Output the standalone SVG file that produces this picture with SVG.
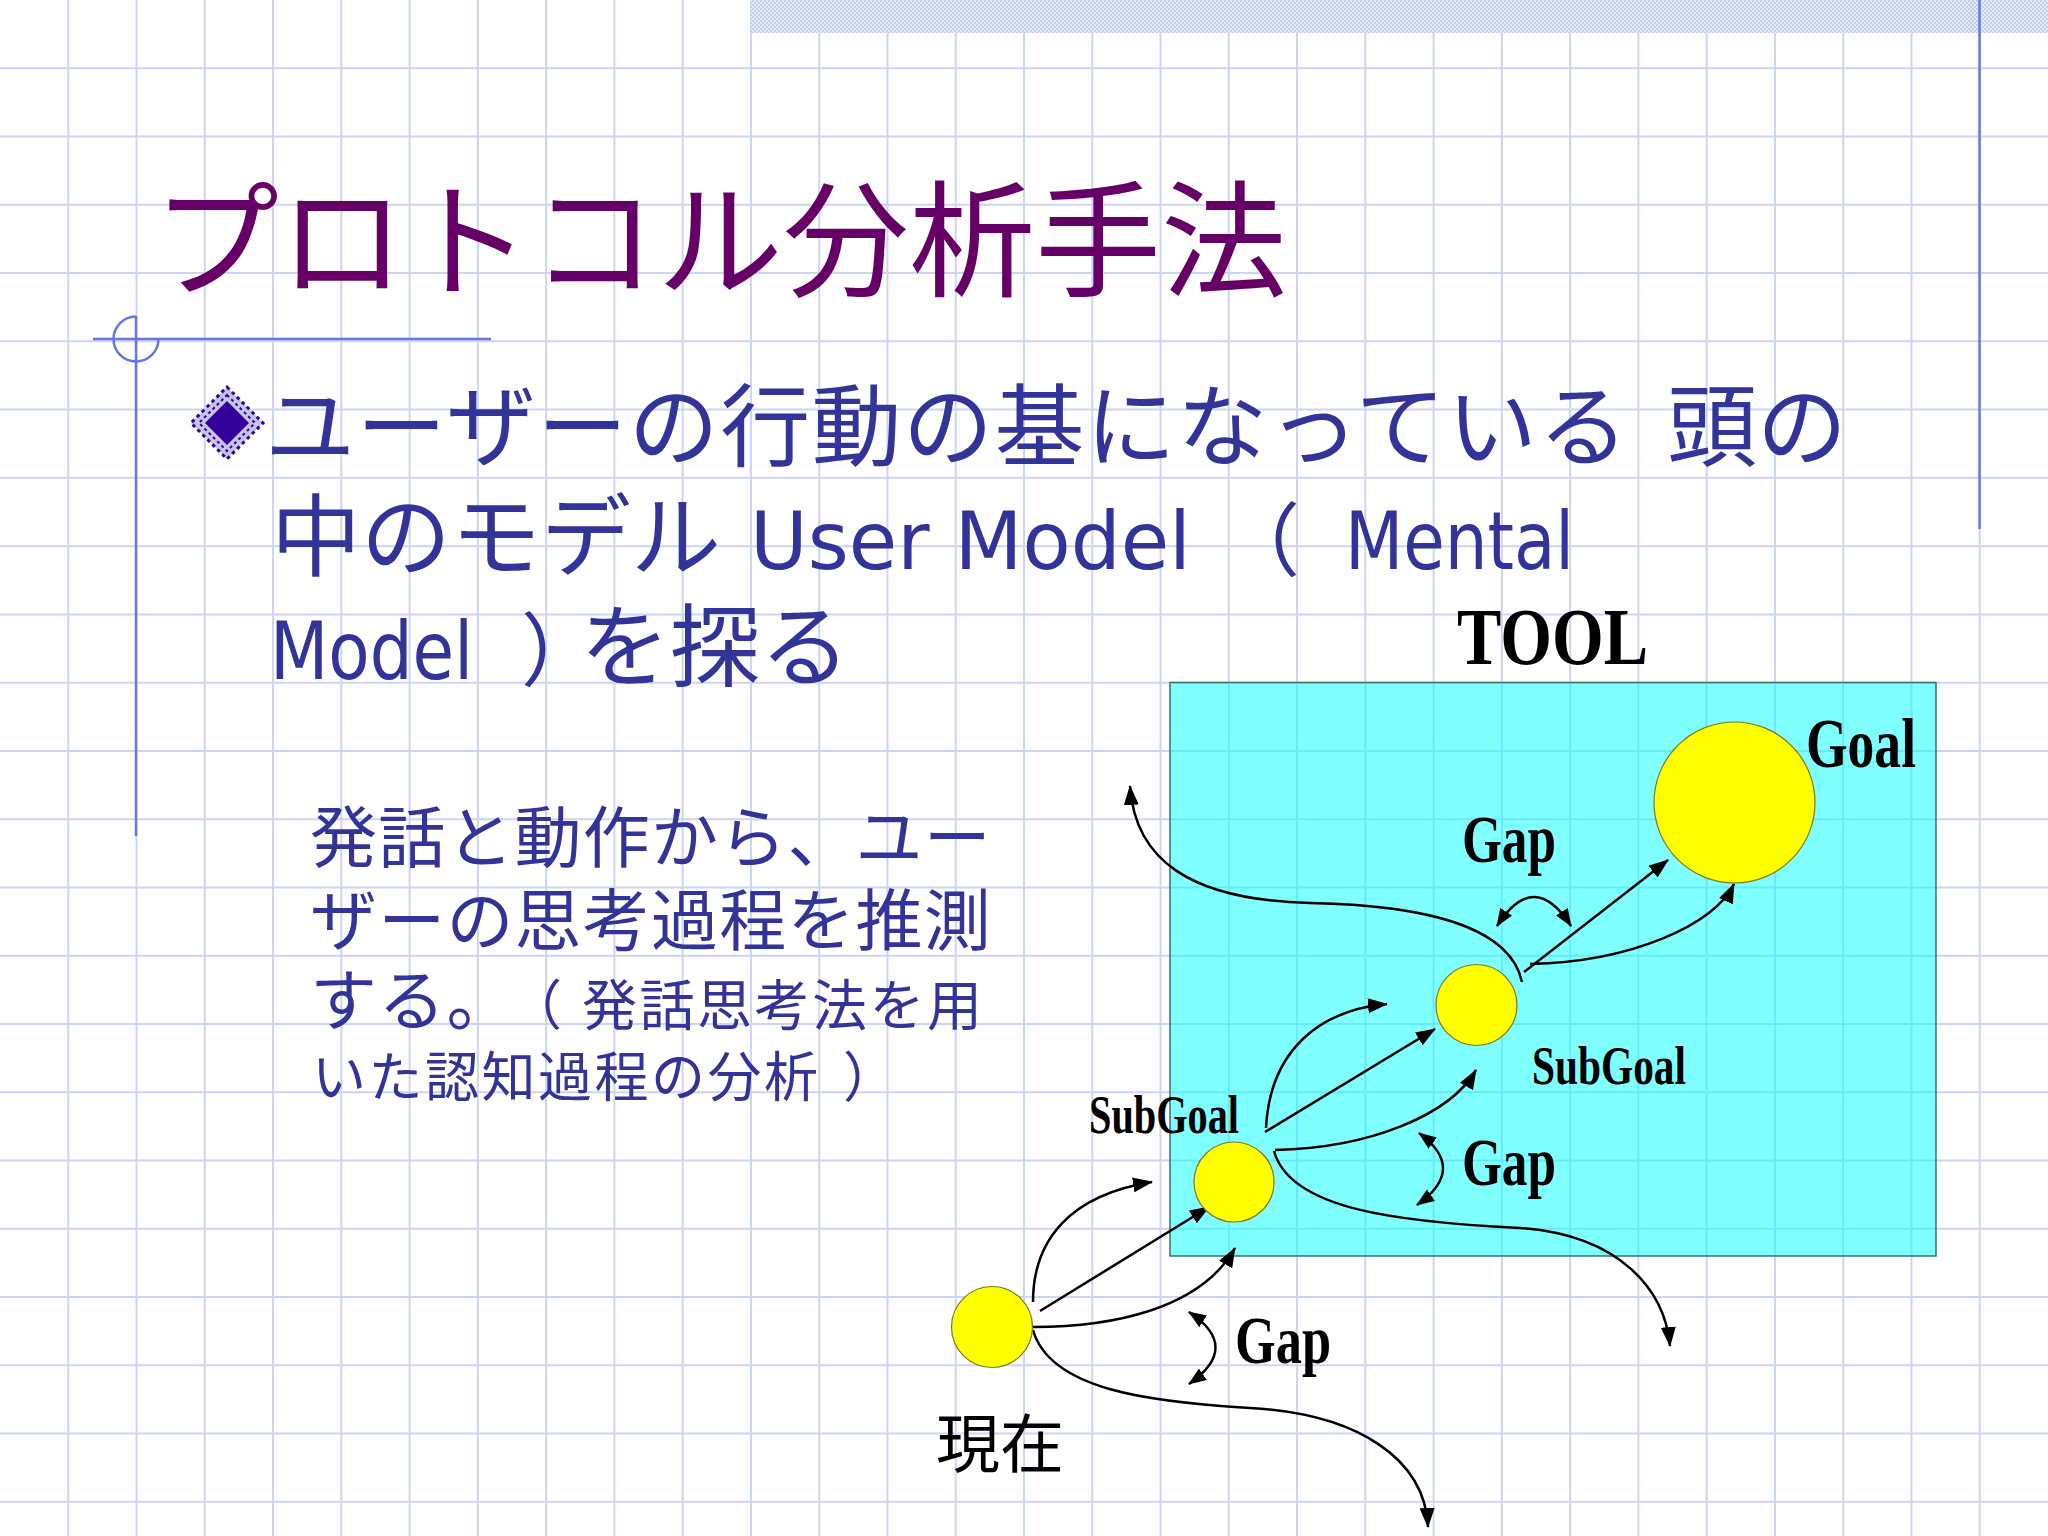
<svg xmlns="http://www.w3.org/2000/svg" width="2048" height="1536" viewBox="0 0 2048 1536">
<defs>
<pattern id="band" width="4" height="4" patternUnits="userSpaceOnUse">
<rect width="4" height="4" fill="#E6EBFB"/>
<rect width="2" height="2" fill="#C3CDF2"/>
<rect x="2" y="2" width="2" height="2" fill="#C3CDF2"/>
</pattern>
<marker id="ah" viewBox="0 0 20 15" refX="19" refY="7.5" markerWidth="20" markerHeight="15" markerUnits="userSpaceOnUse" orient="auto-start-reverse">
<path d="M0,0 L20,7.5 L0,15 z" fill="#000"/>
</marker>
<marker id="ahs" viewBox="0 0 18 14" refX="17" refY="7" markerWidth="18" markerHeight="14" markerUnits="userSpaceOnUse" orient="auto-start-reverse">
<path d="M0,0 L18,7 L0,14 z" fill="#000"/>
</marker>
</defs>
<style>
.grid{stroke:#CCD5F5;stroke-width:2;fill:none}
.deco{stroke:#6678DD;stroke-width:2.5;fill:none}
.title{font-family:"Noto Sans CJK JP","Noto Sans CJK SC",sans-serif;font-size:126px;fill:#660066}
.jp{font-family:"Noto Sans CJK JP","Noto Sans CJK SC",sans-serif;fill:#333399}
.lat{font-family:"DejaVu Sans","Noto Sans",sans-serif;fill:#333399}
.bl{font-family:"Liberation Serif","DejaVu Serif",serif;font-weight:bold;fill:#000}
.ball{fill:#FFFF00;stroke:#7A7A20;stroke-width:1.2}
.con{fill:none;stroke:#000;stroke-width:2.5}
.arr{marker-end:url(#ah)}
.dbl{marker-start:url(#ahs);marker-end:url(#ahs)}
</style>
<rect width="2048" height="1536" fill="#FFFFFF"/>
<path class="grid" d="M68.27,0V1536M136.53,0V1536M204.8,0V1536M273.07,0V1536M341.33,0V1536M409.6,0V1536M477.87,0V1536M546.13,0V1536M614.4,0V1536M682.67,0V1536M750.93,0V1536M819.2,0V1536M887.47,0V1536M955.73,0V1536M1024,0V1536M1092.27,0V1536M1160.53,0V1536M1228.8,0V1536M1297.07,0V1536M1365.33,0V1536M1433.6,0V1536M1501.87,0V1536M1570.13,0V1536M1638.4,0V1536M1706.67,0V1536M1774.93,0V1536M1843.2,0V1536M1911.47,0V1536M1979.73,0V1536M0,68.27H2048M0,136.53H2048M0,204.8H2048M0,273.07H2048M0,341.33H2048M0,409.6H2048M0,477.87H2048M0,546.13H2048M0,614.4H2048M0,682.67H2048M0,750.93H2048M0,819.2H2048M0,887.47H2048M0,955.73H2048M0,1024H2048M0,1092.27H2048M0,1160.53H2048M0,1228.8H2048M0,1297.07H2048M0,1365.33H2048M0,1433.6H2048M0,1501.87H2048"/>
<rect x="751" y="0" width="1297" height="33" fill="url(#band)"/>
<g id="decoration">
<line class="deco" x1="1979.5" y1="0" x2="1979.5" y2="529"/>
<line class="deco" x1="93" y1="339" x2="491" y2="339"/>
<line class="deco" x1="136" y1="316" x2="136" y2="836"/>
<path class="deco" d="M136,316.5 A22.5,22.5 0 1 0 158.5,339"/>
</g>
<g id="title"><text class="title" x="153" y="287">プロトコル分析手法</text></g>
<g id="bullet">
<polygon points="227,387 263,423 227,459 191,423" fill="#C4C4E8" stroke="#330099" stroke-width="3" stroke-dasharray="3.5 3.5"/>
<polygon points="227,395 255,423 227,451 199,423" fill="none" stroke="#330099" stroke-width="2" stroke-dasharray="3 3"/>
<polygon points="227,401 249,423 227,445 205,423" fill="#330099"/>
</g>
<g id="bullet-text">
<text class="jp" y="459" font-size="90"><tspan x="265" letter-spacing="1.4">ユーザーの行動の基になっている</tspan><tspan x="1667">頭の</tspan></text>
<text class="jp" y="569" font-size="90"><tspan x="271">中のモデル</tspan><tspan class="lat" x="750" font-size="80" textLength="441" lengthAdjust="spacingAndGlyphs">User Model</tspan><tspan x="1220" font-size="80">（</tspan><tspan class="lat" x="1345" font-size="80" textLength="229" lengthAdjust="spacingAndGlyphs">Mental</tspan></text>
<text class="jp" y="679" font-size="90"><tspan class="lat" x="270" font-size="80" textLength="203" lengthAdjust="spacingAndGlyphs">Model</tspan><tspan x="521" font-size="80">）</tspan><tspan x="580">を探る</tspan></text>
</g>
<g id="note-text">
<text class="jp" x="310" y="862" font-size="67" letter-spacing="1.2">発話と動作から、ユー</text>
<text class="jp" x="310" y="945" font-size="67" letter-spacing="1.2">ザーの思考過程を推測</text>
<text class="jp" y="1025" font-size="67"><tspan x="310" letter-spacing="1.2">する。</tspan><tspan x="508" font-size="54">（</tspan><tspan x="582" font-size="55" letter-spacing="2.5">発話思考法を用</tspan></text>
<text class="jp" y="1097" font-size="54"><tspan x="312" letter-spacing="2.5">いた認知過程の分析</tspan><tspan x="843">）</tspan></text>
</g>
<g id="tool">
<rect x="1170" y="682.5" width="766" height="573.5" fill="#00FFFF" fill-opacity="0.5" stroke="#3C6E6E" stroke-width="1.5"/>
<text class="bl" x="1457" y="664" font-size="80" textLength="191" lengthAdjust="spacingAndGlyphs">TOOL</text>
</g>
<g id="connectors">
<path class="con arr" d="M1033,1302 C1033,1240 1070,1195 1152,1182"/>
<path class="con arr" d="M1040,1311 L1209,1207"/>
<path class="con arr" d="M1033,1327 C1110,1327 1200,1310 1235,1248"/>
<path class="con arr" d="M1033,1330 C1050,1390 1150,1402 1250,1408 C1360,1414 1425,1460 1428,1527"/>
<path class="con dbl" d="M1189,1312 Q1242,1347 1189,1384"/>
<path class="con arr" d="M1266,1128 C1270,1050 1320,1010 1387,1004"/>
<path class="con arr" d="M1265,1132 L1435,1029"/>
<path class="con arr" d="M1275,1150 C1370,1148 1450,1115 1476,1070"/>
<path class="con arr" d="M1274,1151 C1290,1210 1400,1222 1520,1228 C1620,1235 1665,1290 1670,1346"/>
<path class="con dbl" d="M1419,1133 Q1468,1169 1417,1205"/>
<path class="con arr" d="M1522,982 C1510,925 1420,905 1310,903 C1190,900 1135,860 1130,786"/>
<path class="con arr" d="M1524,972 L1668,860"/>
<path class="con arr" d="M1530,964 C1630,962 1715,925 1734,884"/>
<path class="con dbl" d="M1497,926 Q1534,868 1571,926"/>
</g>
<g id="node-current">
<circle class="ball" cx="992" cy="1327" r="40.5"/>
<text x="936" y="1467" font-family="Noto Sans CJK JP, Noto Sans CJK SC, sans-serif" font-size="64" fill="#000">現在</text>
</g>
<g id="node-subgoal1">
<circle class="ball" cx="1234" cy="1182" r="40"/>
<text class="bl" x="1089" y="1133" font-size="54" textLength="150" lengthAdjust="spacingAndGlyphs">SubGoal</text>
</g>
<g id="node-subgoal2">
<circle class="ball" cx="1476.5" cy="1005" r="40.5"/>
<text class="bl" x="1532" y="1084" font-size="54" textLength="154" lengthAdjust="spacingAndGlyphs">SubGoal</text>
</g>
<g id="node-goal">
<circle class="ball" cx="1734.5" cy="802.5" r="80.5"/>
<text class="bl" x="1806" y="767" font-size="70" textLength="110" lengthAdjust="spacingAndGlyphs">Goal</text>
</g>
<g id="gap-labels">
<text class="bl" x="1462" y="862" font-size="68" textLength="94" lengthAdjust="spacingAndGlyphs">Gap</text>
<text class="bl" x="1462" y="1185" font-size="68" textLength="94" lengthAdjust="spacingAndGlyphs">Gap</text>
<text class="bl" x="1235" y="1363" font-size="68" textLength="96" lengthAdjust="spacingAndGlyphs">Gap</text>
</g>
</svg>
